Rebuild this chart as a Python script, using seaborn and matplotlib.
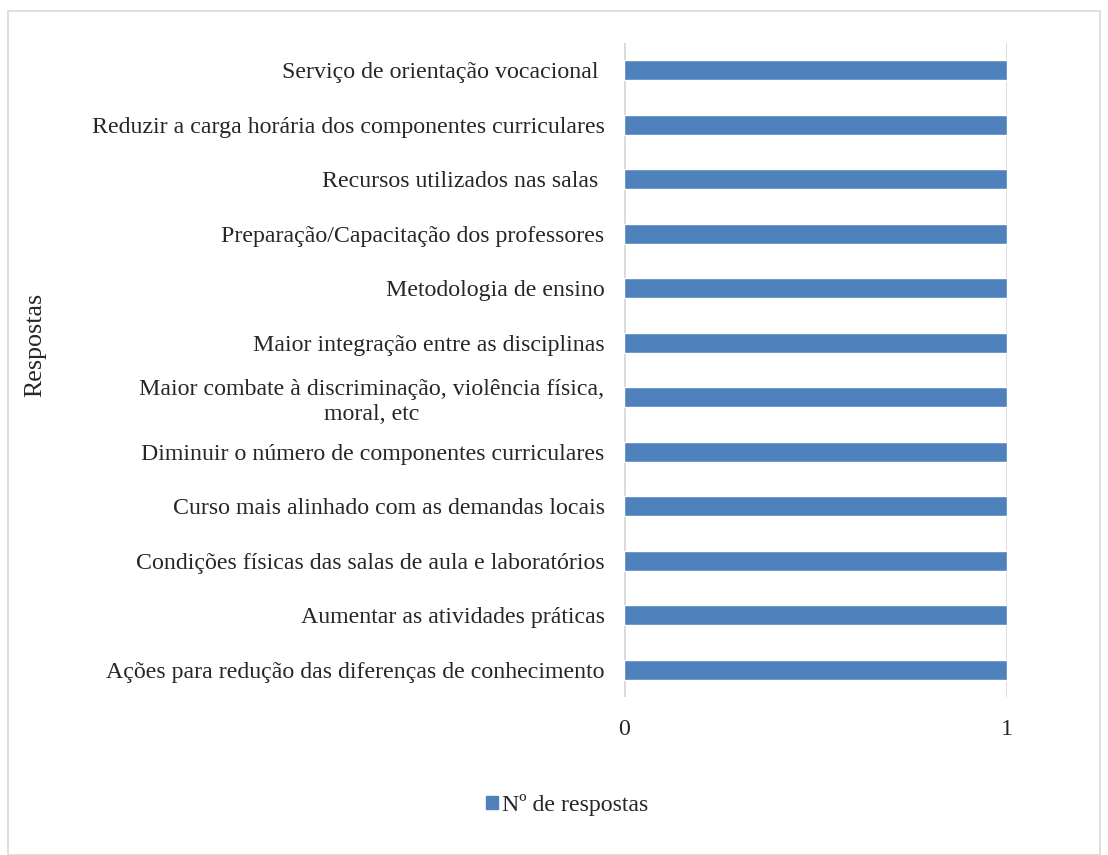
import matplotlib
matplotlib.use("Agg")
import matplotlib.pyplot as plt
import seaborn as sns
import pandas as pd
from matplotlib.patches import Rectangle, Patch

# Data (top to bottom as shown)
respostas = [
    "Serviço de orientação vocacional ",
    "Reduzir a carga horária dos componentes curriculares",
    "Recursos utilizados nas salas ",
    "Preparação/Capacitação dos professores",
    "Metodologia de ensino",
    "Maior integração entre as disciplinas",
    "Maior combate à discriminação, violência física,\nmoral, etc",
    "Diminuir o número de componentes curriculares",
    "Curso mais alinhado com as demandas locais",
    "Condições físicas das salas de aula e laboratórios",
    "Aumentar as atividades práticas",
    "Ações para redução das diferenças de conhecimento",
]
n_respostas = [1, 1, 1, 1, 1, 1, 1, 1, 1, 1, 1, 1]
x_ticks = [0, 1]

df = pd.DataFrame({"Respostas": respostas, "Nº de respostas": n_respostas})

sns.set_style("white")
plt.rcParams["font.family"] = ["Liberation Serif", "DejaVu Serif"]

bar_color = "#4F81BD"
grid_color = "#D9D9D9"
fs = 17.2

fig = plt.figure(figsize=(11.08, 8.55), dpi=100)
ax = fig.add_axes([0.5632, 0.1848, 0.3456, 0.7649])

sns.barplot(data=df, y="Respostas", x="Nº de respostas", color=bar_color,
            width=0.36, saturation=1, ax=ax, zorder=3)

ax.set_xlim(0, 1)
ax.set_xticks(x_ticks)
ax.set_xticklabels([str(t) for t in x_ticks], fontsize=fs)
ax.tick_params(axis="x", length=0, pad=16)
ax.tick_params(axis="y", length=0, pad=14, labelsize=fs)
for lab in ax.get_yticklabels():
    lab.set_multialignment("center")
    lab.set_linespacing(1.25)
for x in x_ticks:
    ax.axvline(x, color=grid_color, lw=2, zorder=1)
for s in ax.spines.values():
    s.set_visible(False)
ax.set_xlabel("")
ax.set_ylabel("")

fig.text(35 / 1108, 1 - 345 / 855, "Respostas", rotation=90, fontsize=fs + 1.5,
         ha="center", va="center")

fig.legend(handles=[Patch(color=bar_color, label="Nº de respostas")],
           loc="center", bbox_to_anchor=(567 / 1108, 1 - 805 / 855),
           frameon=False, fontsize=fs, handlelength=0.5, handleheight=0.5,
           handletextpad=0.15)

fig.patches.append(Rectangle((8 / 1108, 0), 1092 / 1108, 1 - 11 / 855,
                             transform=fig.transFigure, fill=False,
                             edgecolor="#D9D9D9", lw=1.2))

fig.savefig("out.png", dpi=100)
